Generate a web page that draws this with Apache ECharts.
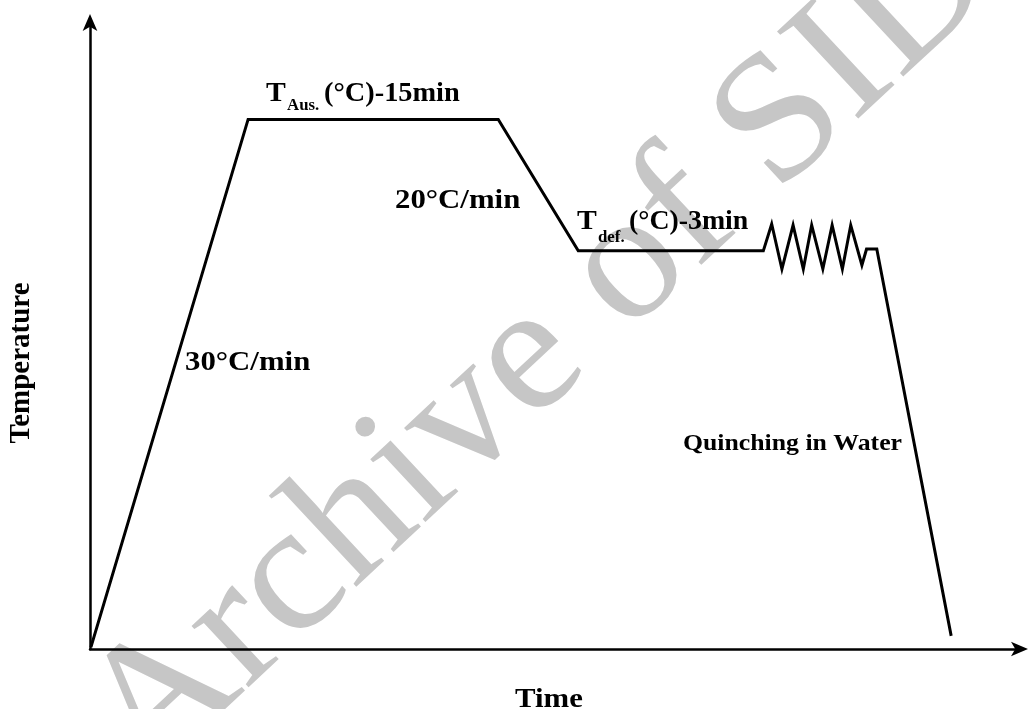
<!DOCTYPE html>
<html>
<head>
<meta charset="utf-8">
<script src="https://cdn.jsdelivr.net/npm/echarts@6/dist/echarts.min.js"></script>
<style>
html, body { margin: 0; padding: 0; background: #fff; }
#chart { width: 1028px; height: 709px; }
</style>
</head>
<body>
<div id="chart"></div>
<script>
// schematic heat treatment cycle (arbitrary units)
var timeValues = [0.1, 17.0, 43.9, 52.5, 72.4, 73.3, 74.4, 75.6, 76.7, 77.6, 78.8, 79.8, 80.9, 81.8, 83.0, 83.5, 84.6, 92.6]
var tempValues = [0.3, 84.6, 84.6, 63.6, 63.6, 67.9, 60.7, 67.7, 60.7, 67.7, 60.7, 67.7, 60.7, 67.7, 61.3, 63.9, 63.9, 2.1]

var axisNames = ['Time', 'Temperature']
var stageLabels = ['30°C/min', '20°C/min', 'Quinching in Water']

var points = timeValues.map(function (t, i) { return [t, tempValues[i]] })

var serif = '"Liberation Serif", "Times New Roman", serif'
function label (text, x, y, size, sx) {
  return {
    type: 'text',
    x: x,
    y: y,
    scaleX: sx || 1.1,
    z: 10,
    style: {
      text: text,
      fontFamily: serif,
      fontWeight: 'bold',
      fontSize: size,
      fill: '#000',
      align: 'left',
      verticalAlign: 'middle'
    }
  }
}

var chart = echarts.init(document.getElementById('chart'))
chart.setOption({
  animation: false,
  grid: {
    left: 90,
    right: 8,
    top: 23,
    bottom: 60
  },
  xAxis: {
    type: 'value',
    min: 0,
    max: 100,
    axisLine: {
      show: true,
      symbol: ['none', 'arrow'],
      symbolSize: [11, 17],
      symbolOffset: [0, 8],
      lineStyle: { color: '#000', width: 2.5 }
    },
    axisTick: { show: false },
    axisLabel: { show: false },
    splitLine: { show: false }
  },
  yAxis: {
    type: 'value',
    min: 0,
    max: 100,
    axisLine: {
      show: true,
      symbol: ['none', 'arrow'],
      symbolSize: [11, 17],
      symbolOffset: [0, 9],
      lineStyle: { color: '#000', width: 2.5 }
    },
    axisTick: { show: false },
    axisLabel: { show: false },
    splitLine: { show: false }
  },
  series: [
    {
      type: 'line',
      data: points,
      showSymbol: false,
      z: 5,
      lineStyle: { color: '#000', width: 3, join: 'miter' }
    }
  ],
  graphic: [
    {
      // watermark
      type: 'text',
      x: 540,
      y: 350,
      rotation: 43 * Math.PI / 180,
      scaleX: 1.04,
      z: 0,
      style: {
        text: 'Archive of SID',
        fontFamily: serif,
        fontSize: 182,
        fill: '#c6c6c6',
        align: 'center',
        verticalAlign: 'middle'
      }
    },
    label('T', 266, 94, 27),
    label('Aus.', 287, 106, 16, 1.05),
    label('(°C)-15min', 324, 94, 27, 1.05),
    label(stageLabels[1], 395, 201, 28),
    label('T', 577, 222, 27),
    label('def.', 598, 238, 16, 1.05),
    label('(°C)-3min', 629, 222, 27, 1.03),
    label(stageLabels[0], 185, 363, 28),
    label(stageLabels[2], 683, 444, 23, 1.12),
    label(axisNames[0], 515, 700, 28),
    {
      type: 'text',
      x: 22,
      y: 363,
      rotation: Math.PI / 2,
      z: 10,
      style: {
        text: axisNames[1],
        fontFamily: serif,
        fontWeight: 'bold',
        fontSize: 29,
        fill: '#000',
        align: 'center',
        verticalAlign: 'middle'
      }
    }
  ]
})
</script>
</body>
</html>
